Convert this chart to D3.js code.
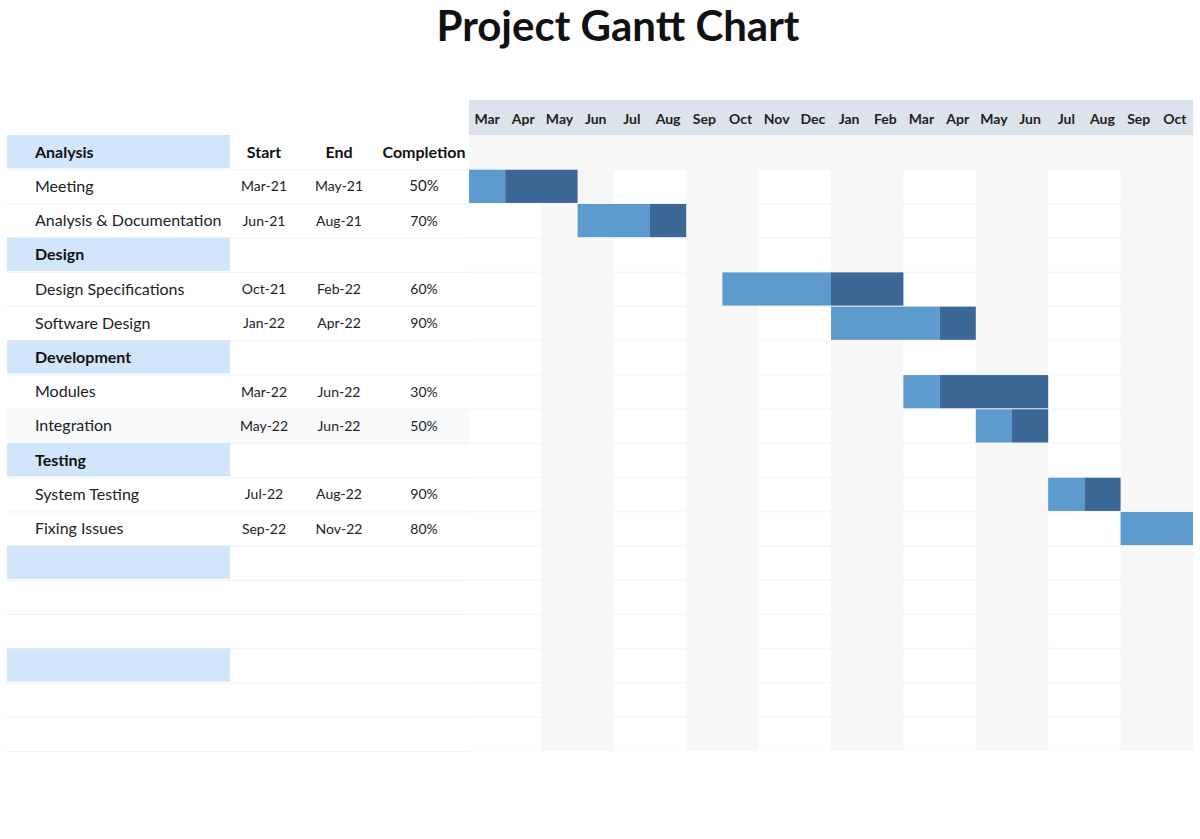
<!DOCTYPE html>
<html>
<head>
<meta charset="utf-8">
<script src="https://cdn.jsdelivr.net/npm/d3@7"></script>
<style>
  html, body { margin: 0; padding: 0; background: #ffffff; }
  svg { display: block; font-family: Lato, "Open Sans", sans-serif; }
</style>
</head>
<body>
<svg id="chart" width="1200" height="839"></svg>
<script>
// ---- data ----
const monthLabels = ["Mar","Apr","May","Jun","Jul","Aug","Sep","Oct","Nov","Dec","Jan","Feb","Mar","Apr","May","Jun","Jul","Aug","Sep","Oct"];
const axisStart = "Mar-21";
const categories = ["Analysis","Design","Development","Testing","",""];
const taskCategory = ["Analysis","Analysis","Design","Design","Development","Development","Testing","Testing"];
const taskNames = ["Meeting","Analysis & Documentation","Design Specifications","Software Design","Modules","Integration","System Testing","Fixing Issues"];
const taskStart = ["Mar-21","Jun-21","Oct-21","Jan-22","Mar-22","May-22","Jul-22","Sep-22"];
const taskEnd   = ["May-21","Aug-21","Feb-22","Apr-22","Jun-22","Jun-22","Aug-22","Nov-22"];
const taskCompletion = [0.5,0.7,0.6,0.9,0.3,0.5,0.9,0.8];
const columnHeaders = ["Start","End","Completion"];

// ---- helpers ----
const monNames = ["Jan","Feb","Mar","Apr","May","Jun","Jul","Aug","Sep","Oct","Nov","Dec"];
function monthIndex(s){ const [m,y]=s.split("-"); return (+y)*12 + monNames.indexOf(m); }
const base = monthIndex(axisStart);
const idx = s => monthIndex(s) - base;

// build rows
const rows = [];
categories.forEach((c,ci) => {
  rows.push({type:"cat", label:c, key:"c"+ci});
  const ts = taskNames.map((n,i)=>i).filter(i => c !== "" && taskCategory[i] === c);
  if (ts.length) ts.forEach(i => rows.push({type:"task", i, key:"t"+i}));
  else { rows.push({type:"blank", key:"b"+ci+"a"}); rows.push({type:"blank", key:"b"+ci+"b"}); }
});

const svg = d3.select("#chart");
const x = d3.scaleLinear().domain([0, monthLabels.length]).range([469, 1193]);
const y = d3.scaleBand().domain(rows.map(r=>r.key)).range([135, 751]).padding(0);
const rh = y.bandwidth();
const colX = {name:35, start:264, end:339, comp:424};
const tableLeft = 7, catRight = 230, ganttLeft = x.range()[0], ganttRight = x.range()[1];

// title
svg.append("text").attr("x", 618).attr("y", 41).attr("text-anchor","middle")
  .attr("font-size", 42).attr("font-weight", 700).attr("fill","#111").text("Project Gantt Chart");

// header band
svg.append("rect").attr("x", ganttLeft).attr("y", 100).attr("width", ganttRight-ganttLeft).attr("height", 35).attr("fill","#dde3ea");
svg.append("g").selectAll("text").data(monthLabels).join("text")
  .attr("x",(d,i)=>x(i+0.5)).attr("y",124).attr("text-anchor","middle")
  .attr("font-size",14).attr("font-weight",700).attr("fill","#222").text(d=>d);

// gantt background: gray header row + gray columns
const g = svg.append("g");
g.append("rect").attr("x",ganttLeft).attr("y",y.range()[0]).attr("width",ganttRight-ganttLeft)
  .attr("height", y.range()[1]-y.range()[0]).attr("fill","#f7f7f7");
// white 2-month columns (cells per row)
const whiteCols = d3.range(0, monthLabels.length, 4);
const bodyRows = rows.slice(1);
whiteCols.forEach(c => {
  g.append("g").selectAll("rect").data(bodyRows).join("rect")
    .attr("x", x(c)).attr("y", r=>y(r.key)+1).attr("width", x(c+2)-x(c)).attr("height", rh-1.5)
    .attr("fill","#ffffff");
});

// row separators in left table
svg.append("g").selectAll("line").data(rows.slice(1).concat([{key:"end"}])).join("line")
  .attr("x1",tableLeft).attr("x2",ganttLeft)
  .attr("y1", r => (r.key==="end"? y.range()[1] : y(r.key)) + 0.5)
  .attr("y2", r => (r.key==="end"? y.range()[1] : y(r.key)) + 0.5)
  .attr("stroke","#f1f2f4").attr("stroke-width",1);

// Integration row tint
rows.filter(r=>r.type==="task" && r.i===5).forEach(r=>{
  svg.append("rect").attr("x",tableLeft).attr("y",y(r.key)+1).attr("width",ganttLeft-tableLeft).attr("height",rh-1).attr("fill","#f9fafc");
});

// category bands
svg.append("g").selectAll("rect").data(rows.filter(r=>r.type==="cat")).join("rect")
  .attr("x",tableLeft).attr("y",r=>y(r.key)).attr("width",catRight-tableLeft).attr("height",rh-1)
  .attr("fill","#d1e6fa");
svg.append("g").selectAll("text").data(rows.filter(r=>r.type==="cat")).join("text")
  .attr("x",colX.name).attr("y",r=>y(r.key)+rh/2+5.5).attr("font-size",16).attr("font-weight",700)
  .attr("fill","#111").text(r=>r.label);

// column headers
const hdrY = y(rows[0].key)+rh/2+5.5;
[colX.start,colX.end,colX.comp].forEach((cx,i)=>{
  svg.append("text").attr("x",cx).attr("y",hdrY).attr("text-anchor","middle")
    .attr("font-size",16).attr("font-weight",700).attr("fill","#111").text(columnHeaders[i]);
});

// task rows text
const taskRows = rows.filter(r=>r.type==="task");
const tg = svg.append("g");
tg.selectAll("text.name").data(taskRows).join("text").attr("class","name")
  .attr("x",colX.name).attr("y",r=>y(r.key)+rh/2+5.5).attr("font-size",16).attr("fill","#222")
  .text(r=>taskNames[r.i]);
tg.selectAll("text.start").data(taskRows).join("text").attr("class","start")
  .attr("x",colX.start).attr("y",r=>y(r.key)+rh/2+5).attr("font-size",14).attr("text-anchor","middle").attr("fill","#222")
  .text(r=>taskStart[r.i]);
tg.selectAll("text.end").data(taskRows).join("text").attr("class","end")
  .attr("x",colX.end).attr("y",r=>y(r.key)+rh/2+5).attr("font-size",14).attr("text-anchor","middle").attr("fill","#222")
  .text(r=>taskEnd[r.i]);
tg.selectAll("text.comp").data(taskRows).join("text").attr("class","comp")
  .attr("x",colX.comp).attr("y",r=>y(r.key)+rh/2+5).attr("font-size",r=>r.i===0?15:14).attr("text-anchor","middle").attr("fill","#222")
  .text(r=>d3.format(".0%")(taskCompletion[r.i]));

// bars
svg.append("defs").append("clipPath").attr("id","gclip").append("rect")
  .attr("x",ganttLeft).attr("y",0).attr("width",ganttRight-ganttLeft).attr("height",839);
const bars = svg.append("g").attr("clip-path","url(#gclip)");
taskRows.forEach(r=>{
  const s = idx(taskStart[r.i]), e = idx(taskEnd[r.i]) + 1;
  const dur = e - s;
  const done = Math.floor(taskCompletion[r.i]*dur + 1e-9);
  const yy = y(r.key)+0.5, hh = rh-1;
  bars.append("rect").attr("x",x(s)).attr("y",yy).attr("width",x(s+done)-x(s)).attr("height",hh).attr("fill","#5d9bcf");
  bars.append("rect").attr("x",x(s+done)).attr("y",yy).attr("width",x(e)-x(s+done)).attr("height",hh).attr("fill","#3c6897");
});
</script>
</body>
</html>
